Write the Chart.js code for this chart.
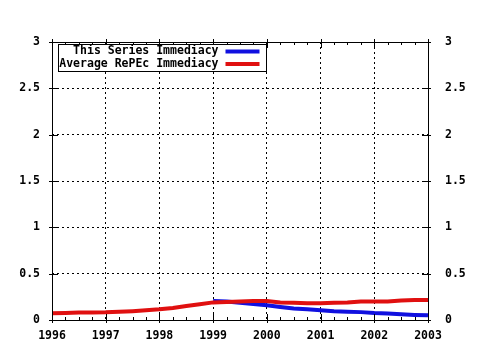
<!DOCTYPE html>
<html>
<head>
<meta charset="utf-8">
<script src="https://cdn.jsdelivr.net/npm/chart.js@4"></script>
<style>
  html, body { margin: 0; padding: 0; background: #fff; }
  #wrap { width: 480px; height: 350px; }
</style>
</head>
<body>
<div id="wrap"><canvas id="immediacy"></canvas></div>
<script>
// quarterly points
const years = [1996, 1996.25, 1996.5, 1996.75, 1997, 1997.25, 1997.5, 1997.75,
               1998, 1998.25, 1998.5, 1998.75, 1999, 1999.25, 1999.5, 1999.75,
               2000, 2000.25, 2000.5, 2000.75, 2001, 2001.25, 2001.5, 2001.75,
               2002, 2002.25, 2002.5, 2002.75, 2003];
const seriesImmediacy = [null, null, null, null, null, null, null, null,
                         null, null, null, null, 0.205, 0.2, 0.185, 0.172,
                         0.158, 0.14, 0.125, 0.115, 0.105, 0.095, 0.09, 0.085,
                         0.075, 0.07, 0.062, 0.055, 0.05];
const repecImmediacy = [0.072, 0.075, 0.08, 0.082, 0.083, 0.088, 0.095, 0.105,
                        0.115, 0.13, 0.15, 0.17, 0.19, 0.195, 0.2, 0.205,
                        0.205, 0.19, 0.185, 0.18, 0.18, 0.185, 0.19, 0.2,
                        0.2, 0.2, 0.21, 0.215, 0.215];
const seriesLabels = ["This Series Immediacy", "Average RePEc Immediacy"];
const yearTicks = [1996, 1997, 1998, 1999, 2000, 2001, 2002, 2003];

const FONT = { family: "'DejaVu Sans Mono', monospace", size: 11.5, weight: 'bold' };

function points(vals) {
    return years.map((x, i) => ({ x: x, y: vals[i] }));
}

// frame, inward ticks and the boxed key in the upper left
const gnuFrame = {
    id: 'gnuFrame',
    afterDatasetsDraw(chart) {
        const ctx = chart.ctx;
        const a = chart.chartArea;
        const xs = chart.scales.x, ys = chart.scales.y;
        ctx.save();
        ctx.strokeStyle = '#000';
        ctx.lineWidth = 1;
        ctx.beginPath();
        ctx.rect(Math.round(a.left) + 0.5, Math.round(a.top) + 0.5,
                 Math.round(a.right - a.left), Math.round(a.bottom - a.top));
        // x ticks, major and quarter-year minor, top and bottom
        for (let v = 1996; v <= 2003.001; v += 0.25) {
            const px = Math.round(xs.getPixelForValue(v)) + 0.5;
            const major = Math.abs(v - Math.round(v)) < 1e-6;
            const len = major ? 6 : 3;
            ctx.moveTo(px, a.bottom + (major ? 3 : 0)); ctx.lineTo(px, a.bottom - len);
            ctx.moveTo(px, a.top - (major ? 3 : 0)); ctx.lineTo(px, a.top + len);
        }
        // y ticks on both sides
        for (let v = 0; v <= 3.001; v += 0.5) {
            const py = Math.round(ys.getPixelForValue(v)) + 0.5;
            ctx.moveTo(a.left - 3, py); ctx.lineTo(a.left + 6, py);
            ctx.moveTo(a.right + 3, py); ctx.lineTo(a.right - 6, py);
        }
        ctx.stroke();

        // key
        const bx = Math.round(a.left) + 6.5, by = Math.round(a.top) + 2.5;
        const bw = 208, bh = 27;
        ctx.fillStyle = '#fff';
        ctx.fillRect(bx, by, bw, bh);
        ctx.strokeRect(bx, by, bw, bh);
        ctx.font = 'bold 11.5px ' + FONT.family;
        ctx.textAlign = 'right';
        ctx.textBaseline = 'middle';
        chart.data.datasets.forEach((ds, i) => {
            const ly = by + 7 + i * 12.5;
            ctx.fillStyle = '#000';
            ctx.fillText(ds.label, bx + 160, ly);
            ctx.strokeStyle = ds.borderColor;
            ctx.lineWidth = 4;
            ctx.beginPath();
            ctx.moveTo(bx + 167, ly);
            ctx.lineTo(bx + 201, ly);
            ctx.stroke();
        });
        ctx.restore();
    }
};

const yLabel = (v) => String(v);

const ctx = document.getElementById('immediacy').getContext('2d');
new Chart(ctx, {
    type: 'line',
    data: {
        datasets: [{
            label: seriesLabels[0],
            data: points(seriesImmediacy),
            borderColor: '#1010e0',
            borderWidth: 4,
            order: 1
        }, {
            label: seriesLabels[1],
            data: points(repecImmediacy),
            borderColor: '#e01010',
            borderWidth: 4,
            order: 0
        }]
    },
    options: {
        responsive: true,
        maintainAspectRatio: false,
        animation: false,
        layout: { padding: { top: 42, left: 0, right: 0, bottom: 0 } },
        elements: {
            point: { radius: 0 },
            line: { tension: 0, borderCapStyle: 'butt' }
        },
        plugins: {
            legend: { display: false },
            tooltip: { enabled: false }
        },
        scales: {
            x: {
                type: 'linear',
                position: 'bottom',
                min: 1996,
                max: 2003,
                afterBuildTicks: (scale) => { scale.ticks = yearTicks.map(v => ({ value: v })); },
                afterFit: (scale) => { scale.height = 30; },
                ticks: {
                    color: '#000',
                    font: FONT,
                    padding: 9,
                    maxRotation: 0,
                    autoSkip: false,
                    callback: (v) => String(v)
                },
                grid: { color: '#000', lineWidth: 1, drawTicks: false },
                border: { display: false, dash: [2, 3] }
            },
            y: {
                position: 'left',
                min: 0,
                max: 3,
                afterFit: (scale) => { scale.width = 52; },
                ticks: { stepSize: 0.5, color: '#000', font: FONT, padding: 12, callback: yLabel },
                grid: { color: '#000', lineWidth: 1, drawTicks: false },
                border: { display: false, dash: [2, 3] }
            },
            y2: {
                position: 'right',
                min: 0,
                max: 3,
                afterFit: (scale) => { scale.width = 52; },
                ticks: { stepSize: 0.5, color: '#000', font: FONT, padding: 17, callback: yLabel },
                grid: { drawOnChartArea: false, drawTicks: false },
                border: { display: false }
            }
        }
    },
    plugins: [gnuFrame]
});
</script>
</body>
</html>
